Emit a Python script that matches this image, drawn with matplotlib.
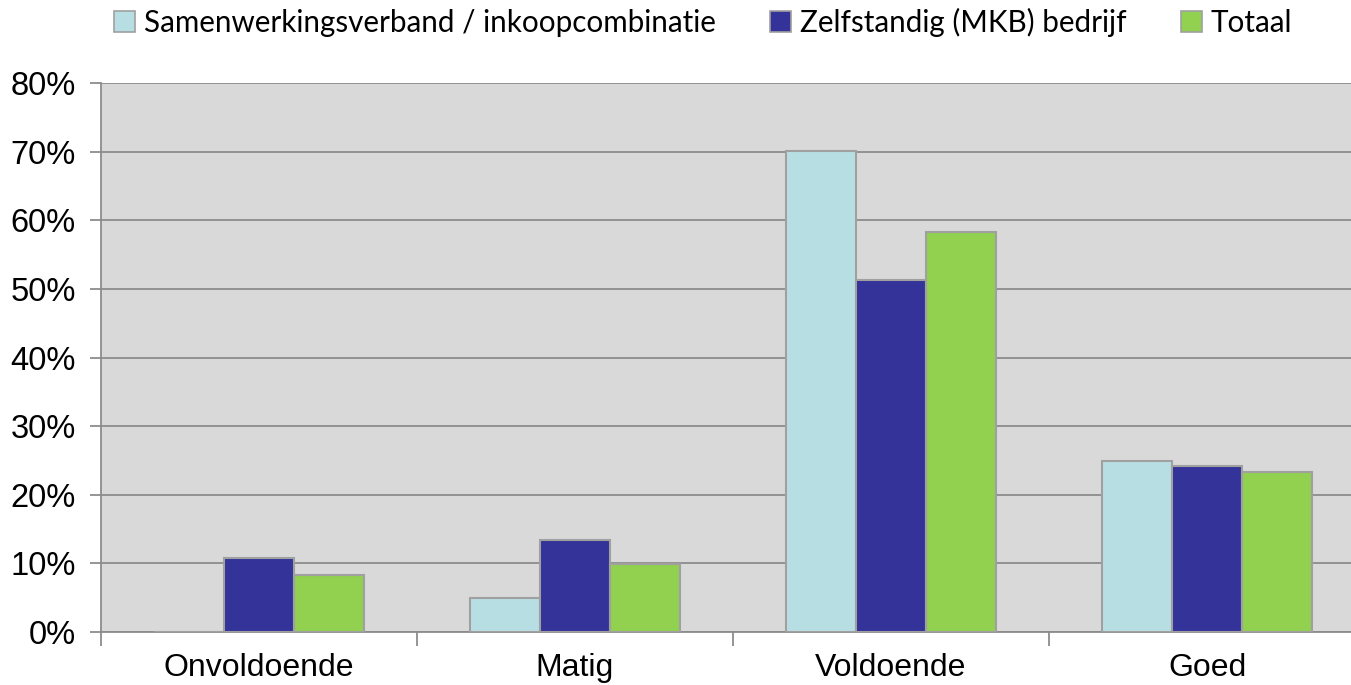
import matplotlib.pyplot as plt
from matplotlib.patches import Patch
import numpy as np

categories = ["Onvoldoende", "Matig", "Voldoende", "Goed"]
samen = [0.0, 5.0, 70.1, 24.9]
zelf = [10.8, 13.4, 51.3, 24.2]
totaal = [8.3, 9.9, 58.3, 23.3]
series_names = ["Samenwerkingsverband / inkoopcombinatie", "Zelfstandig (MKB) bedrijf", "Totaal"]
colors = ["#b7dfe3", "#333399", "#92d050"]

fig = plt.figure(figsize=(13.51, 6.85), dpi=100)
ax = fig.add_axes([101 / 1351, 53 / 685, 1264 / 1351, 549 / 685])
ax.set_facecolor("#d9d9d9")

x = np.arange(len(categories))
w = 0.222
for i, (vals, c) in enumerate(zip([samen, zelf, totaal], colors)):
    ax.bar(x + (i - 1) * w, vals, w, color=c, edgecolor="#a0a0a0", linewidth=1.5, zorder=3)

ax.set_xlim(-0.5, 3.5)
ax.set_ylim(0, 80)
ax.set_yticks(range(0, 81, 10))
ax.set_yticklabels([f"{v}%" for v in range(0, 81, 10)], fontsize=23.5, family="Liberation Sans")
ax.grid(axis="y", color="#8c8c8c", linewidth=1.3, zorder=1)
ax.set_xticks(x)
ax.set_xticklabels(categories, fontsize=23, family="Liberation Sans")
ax.tick_params(axis="x", which="major", length=0, pad=15)
ax.set_xticks([-0.5, 0.5, 1.5, 2.5], minor=True)
ax.tick_params(axis="x", which="minor", length=10, color="#8c8c8c", width=1.3)
ax.tick_params(axis="y", length=8, color="#8c8c8c", width=1.3, pad=10)
for s in ["top", "right"]:
    ax.spines[s].set_visible(False)
for s in ["left", "bottom"]:
    ax.spines[s].set_color("#8c8c8c")
    ax.spines[s].set_linewidth(1.3)

handles = [Patch(facecolor=c, edgecolor="#a0a0a0", linewidth=1.2) for c in colors]
fig.legend(handles, series_names, loc="center left", bbox_to_anchor=(114 / 1351, 1 - 22 / 685),
           ncol=3, frameon=False, prop={"family": "Lato", "size": 21.3},
           handlelength=0.7, handleheight=0.7, handletextpad=0.3, columnspacing=1.85,
           borderaxespad=0, borderpad=0)

fig.savefig("out.png", dpi=100)
